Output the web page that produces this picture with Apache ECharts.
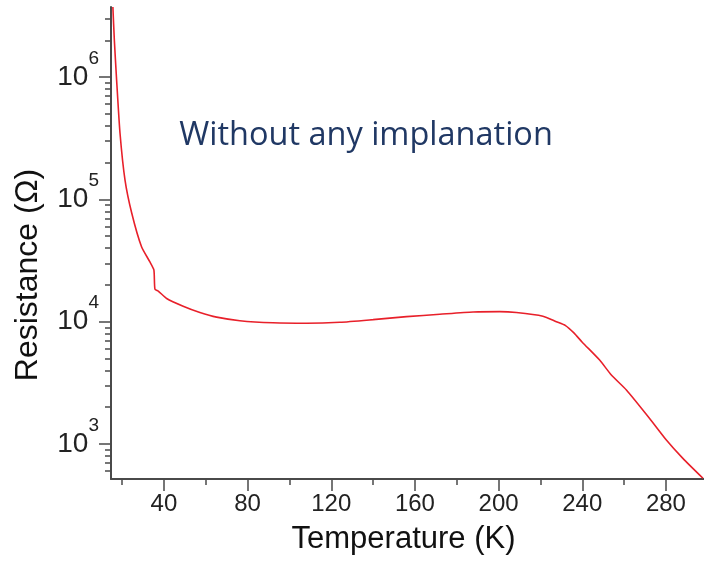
<!DOCTYPE html>
<html>
<head>
<meta charset="utf-8">
<title>Resistance vs Temperature</title>
<script src="https://cdn.jsdelivr.net/npm/echarts@6/dist/echarts.min.js"></script>
<style>
  html, body { margin: 0; padding: 0; background: #ffffff; }
  #chart { width: 704px; height: 563px; }
</style>
</head>
<body>
<div id="chart"></div>
<script>
// Measured R(T) curve, sample without any implantation
const temperature = [
  15.6, 16.3, 17.3, 19.0, 21.4, 24.6, 29.3, 33.3, 35.2, 35.7, 37.3, 41.3,
  49.2, 57.2, 65.2, 76.3, 92.1, 108.2, 124.1, 140.0, 156.0, 171.9, 187.8,
  200.5, 208.5, 221.2, 227.6, 232.0, 236.0, 240.0, 248.3, 253.9, 261.1, 272.2,
  280.2, 288.1, 297.7
];
const resistance = [
  3.74e6, 2.0e6, 1.0e6, 3.49e5, 1.44e5, 7.75e4, 4.1e4, 3.08e4, 2.65e4, 1.85e4, 1.78e4, 1.55e4,
  1.34e4, 1.19e4, 1.09e4, 1.02e4, 9.8e3, 9.71e3, 9.89e3, 1.04e4, 1.10e4, 1.15e4, 1.20e4,
  1.21e4, 1.19e4, 1.11e4, 1.0e4, 9.3e3, 8.1e3, 6.8e3, 4.86e3, 3.67e3, 2.77e3, 1.62e3,
  1.08e3, 764, 525
];

// Axis ticks
const xMajorTicks = [40, 80, 120, 160, 200, 240, 280];
const xMinorTicks = [20, 60, 100, 140, 180, 220, 260];
const yMajorTicks = [1e3, 1e4, 1e5, 1e6];
const yMinorTicks = [
  600, 700, 800, 900,
  2e3, 3e3, 4e3, 5e3, 6e3, 7e3, 8e3, 9e3,
  2e4, 3e4, 4e4, 5e4, 6e4, 7e4, 8e4, 9e4,
  2e5, 3e5, 4e5, 5e5, 6e5, 7e5, 8e5, 9e5,
  2e6, 3e6
];

const xRange = [14.7, 298.2];
const yRange = [518, 3.74e6];

const axisColor = '#4a4a4a';
const font = '"Liberation Sans", Arial, sans-serif';

const chart = echarts.init(document.getElementById('chart'), null, { renderer: 'canvas' });

const points = temperature.map((t, i) => [t, resistance[i]]);

chart.setOption({
  animation: false,
  backgroundColor: '#ffffff',
  grid: { left: 111, right: 0, top: 7, bottom: 84, containLabel: false, outerBoundsMode: 'none' },
  xAxis: [
    {
      type: 'value', min: xRange[0], max: xRange[1], position: 'bottom',
      name: 'Temperature (K)', nameLocation: 'middle', nameGap: 45,
      nameTextStyle: { fontFamily: font, fontSize: 31, color: '#111', padding: [0, 8, 0, 0] },
      axisLine: { show: true, lineStyle: { color: axisColor, width: 2 } },
      axisTick: { show: true, inside: false, length: 12, customValues: xMajorTicks,
                  lineStyle: { color: axisColor, width: 1.5 } },
      axisLabel: { show: true, customValues: xMajorTicks, margin: 13,
                   fontFamily: font, fontSize: 24, color: '#222' },
      splitLine: { show: false }
    },
    {
      type: 'value', min: xRange[0], max: xRange[1], position: 'bottom',
      axisLine: { show: false },
      axisTick: { show: true, inside: false, length: 6, customValues: xMinorTicks,
                  lineStyle: { color: axisColor, width: 1.5 } },
      axisLabel: { show: false },
      splitLine: { show: false }
    }
  ],
  yAxis: [
    {
      type: 'log', logBase: 10, min: yRange[0], max: yRange[1], position: 'left',
      name: 'Resistance (Ω)', nameLocation: 'middle', nameGap: 67,
      nameTextStyle: { fontFamily: font, fontSize: 32, color: '#111', padding: [0, 64, 0, 0] },
      axisLine: { show: true, lineStyle: { color: axisColor, width: 2 } },
      axisTick: { show: true, inside: false, length: 12, customValues: yMajorTicks,
                  lineStyle: { color: axisColor, width: 1.5 } },
      axisLabel: {
        show: true, customValues: yMajorTicks, margin: 12,
        formatter: v => '{b|10}{s|' + Math.round(Math.log10(v)) + '}',
        rich: {
          b: { fontFamily: font, fontSize: 28, color: '#222', padding: [15, 0, 15, 0], verticalAlign: 'middle' },
          s: { fontFamily: font, fontSize: 19, color: '#222', verticalAlign: 'top', padding: [1, 0, 0, 0] }
        }
      },
      splitLine: { show: false }
    },
    {
      type: 'log', logBase: 10, min: yRange[0], max: yRange[1], position: 'left',
      axisLine: { show: false },
      axisTick: { show: true, inside: false, length: 6, customValues: yMinorTicks,
                  lineStyle: { color: axisColor, width: 1.5 } },
      axisLabel: { show: false },
      splitLine: { show: false }
    }
  ],
  graphic: [
    {
      type: 'text', x: 366, y: 136,
      style: {
        text: 'Without any implanation',
        fontFamily: '"Open Sans", Lato, sans-serif', fontSize: 32.5,
        fill: '#203864', textAlign: 'center', textVerticalAlign: 'middle'
      }
    }
  ],
  series: [
    {
      type: 'line', xAxisIndex: 0, yAxisIndex: 0,
      data: points, showSymbol: false, smooth: 0.2,
      lineStyle: { color: '#e8202a', width: 1.6 },
      clip: true
    }
  ]
});
</script>
</body>
</html>
